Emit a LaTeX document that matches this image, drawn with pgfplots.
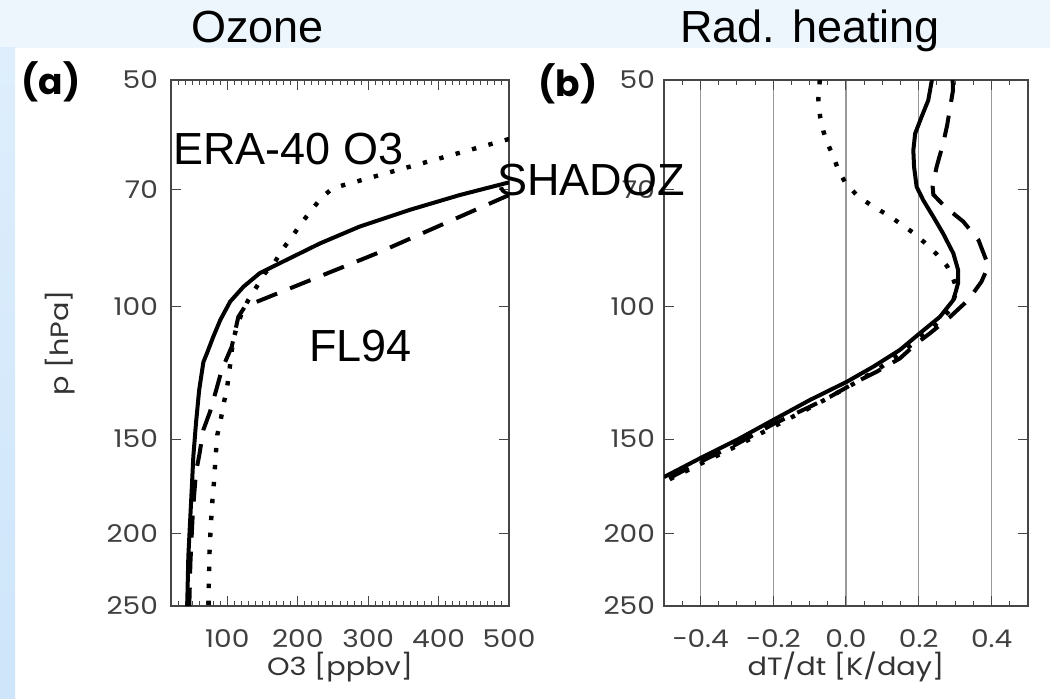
\documentclass[border=0pt]{standalone}
\usepackage{fontspec}
\usepackage{pgfplots}
\pgfplotsset{compat=1.18}
\setmainfont{Liberation Sans}
\newfontfamily\tickfont[FakeStretch=1.15]{Poppins}
\newfontfamily\panelfont{Poppins}
\definecolor{topband}{RGB}{238,246,253}
\definecolor{stripTop}{RGB}{222,238,252}
\definecolor{stripBot}{RGB}{206,229,250}
\definecolor{axisgray}{RGB}{70,70,70}

\pgfplotsset{
  myaxis/.style={
    scale only axis, height=263pt, anchor=north west,
    y dir=reverse, ymin=50, ymax=250,
    ytick={50,70,100,150,200,250},
    yticklabels={50,70,100,150,200,250},
    minor ytick={},
    tick align=inside,
    axis line style={axisgray,line width=0.6pt},
    every tick/.style={axisgray,line width=0.5pt},
    major tick length=5pt, minor tick length=2.5pt,
    tick label style={font=\tickfont\fontsize{12.2}{14}\selectfont, text=black!75},
    xticklabel style={anchor=base, yshift=-20.5pt},
    label style={font=\tickfont\fontsize{12.5}{15}\selectfont, text=black!80},
    xlabel style={at={(axis description cs:0.5,0)}, anchor=base, yshift=-34.5pt},
  }
}

\begin{document}
\begin{tikzpicture}
\useasboundingbox (0,0) rectangle (525pt,-349.5pt);
\fill[white] (0,0) rectangle (525pt,-349.5pt);
\fill[topband] (0,0) rectangle (525pt,-24pt);
\shade[top color=stripTop,bottom color=stripBot] (0,-24pt) rectangle (7.5pt,-349.5pt);

% ---------------- panel (a) ----------------
\begin{axis}[ymode=log, myaxis,
  at={(85.5pt,-40pt)}, width=169pt,
  xmin=20, xmax=500,
  xtick={100,200,300,400,500},
  xticklabels={100,200,300,400,500},
  minor xtick={20,30,40,50,60,70,80,90,110,120,130,140,150,160,170,180,190,210,220,230,240,250,260,270,280,290,310,320,330,340,350,360,370,380,390,410,420,430,440,450,460,470,480,490},
  yticklabel style={xshift=-3pt},
  ylabel={p [hPa]},
  ylabel style={at={(axis description cs:-0.328,0.5)}, anchor=center},
  xlabel={O3 [ppbv]},
]
% SHADOZ (solid)
\addplot[black, line width=2pt] table {
500 68.4
430 71.1
359 74.4
288 78.3
232 82.4
184 86.7
146 90.3
123 94.1
104 98.5
90 104.2
80 109.7
71 115.4
66 118.5
60 129.1
55.5 142.8
51.7 158.3
49.4 175.3
47 193.9
44.6 215
43 250
};
% FL94 (dashed)
\addplot[black, line width=2pt, dash pattern=on 11pt off 7pt] table {
500 71.1
312 85
125 100
115.6 103.2
106.2 113.1
92 121.4
84.9 128.4
75.4 138
65.9 145.9
60.2 157.5
55.5 166
52.5 180
50.5 192
49 205
47.5 220
46 250
};
% ERA-40 (dotted)
\addplot[black, line width=2.2pt, dash pattern=on 2.2pt off 6.3pt] table {
500 59.9
250 69.6
234 71.6
219.8 74.4
205.6 77.4
193.7 80.3
179.5 83.7
167.7 87.2
153.5 90.3
141.7 94.1
129.8 98
120.4 102.1
113.3 106.4
108.5 110.8
106 115
102.5 122.7
99.1 129.1
94.3 135.2
90.6 141.5
85.7 148.2
83.9 155.9
82.5 162.9
81.1 170.9
79.2 178.9
77.8 187.3
76.4 196.1
75.4 205.3
74.4 215
74.2 226
73.5 237
73.5 250
};
\end{axis}

% ---------------- panel (b) ----------------
\begin{axis}[ymode=log, myaxis,
  at={(332pt,-40pt)}, width=182pt,
  xmin=-0.5, xmax=0.5,
  xtick={-0.4,-0.2,0,0.2,0.4},
  xticklabels={−0.4,−0.2,0.0,0.2,0.4},
  minor xtick={-0.5,-0.45,-0.35,-0.3,-0.25,-0.15,-0.1,-0.05,0.05,0.1,0.15,0.25,0.3,0.35,0.45,0.5},
  xmajorgrids=true,
  major x grid style={black!40, line width=0.6pt},
  yticklabel style={xshift=-1pt},
  xlabel={dT/dt [K/day]},
]
% SHADOZ (solid)
\addplot[black, line width=2pt] table {
0.236 50
0.226 53.2
0.208 55.9
0.190 58.9
0.185 62
0.187 65.2
0.194 69.3
0.212 72.2
0.240 76
0.267 80
0.295 85
0.308 89.4
0.308 93.1
0.295 98
0.258 103.2
0.203 108.5
0.148 114.2
0.075 120.2
0.002 125.9
-0.099 133.1
-0.200 141.5
-0.300 150.4
-0.401 159.1
-0.5 168.5
};
% FL94 (dashed)
\addplot[black, line width=2pt, dash pattern=on 11pt off 7pt] table {
0.293 50
0.294 51.6
0.278 57.4
0.267 60.7
0.249 65.2
0.238 69.3
0.240 71
0.272 73.7
0.322 77.1
0.364 81.6
0.385 86.7
0.386 89.5
0.372 92.7
0.336 98
0.286 103.2
0.231 108.5
0.194 111.9
0.148 117.2
0.084 122.1
0.029 125.9
-0.044 131.8
-0.090 135.2
-0.2 143.3
-0.3 152.3
-0.401 160.9
-0.5 170.5
};
% ERA-40 (dotted)
\addplot[black, line width=2.2pt, dash pattern=on 2.2pt off 6.3pt] table {
-0.072 50
-0.076 53
-0.071 56
-0.062 58.5
-0.053 60.4
-0.035 63.1
-0.021 65.9
0.000 68.7
0.031 71.2
0.068 73.3
0.107 75.2
0.146 77.4
0.183 79.7
0.217 82.3
0.249 85.2
0.278 88.4
0.295 92
0.305 95
0.286 101
0.231 107.4
0.162 114.2
0.093 120.7
0.019 126.8
-0.085 135.2
-0.195 144.1
-0.300 153.2
-0.401 161.9
-0.5 171.1
};
\end{axis}

% ---------------- texts ----------------
\begin{scope}[every node/.style={inner sep=0pt, font=\fontsize{22.5}{26}\selectfont}]
\node[anchor=base] at (128.75pt,-21.5pt) {Ozone};
\node[anchor=base] at (405pt,-21.5pt) {Rad. heating};
\node[anchor=base west] at (86.5pt,-82.5pt) {ERA-40 O3};
\node[anchor=base west] at (248.5pt,-98pt) {SHADOZ};
\node[anchor=base west] at (154.5pt,-181pt) {FL94};
\end{scope}
\node[inner sep=0pt, font=\panelfont\bfseries\fontsize{18}{20}\selectfont] at (25.5pt,-41pt) {(a)};
\node[inner sep=0pt, font=\panelfont\bfseries\fontsize{18}{20}\selectfont] at (284pt,-42pt) {(b)};
\end{tikzpicture}
\end{document}
